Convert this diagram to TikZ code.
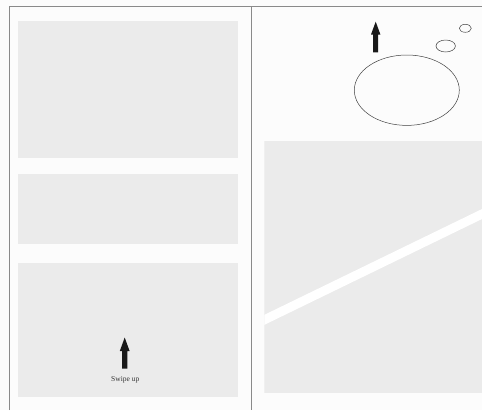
\documentclass[tikz,border=0pt]{standalone}
\usepackage{fontspec}
\setmainfont{Liberation Serif}
\definecolor{bg}{HTML}{FCFCFC}
\definecolor{panel}{HTML}{EBEBEB}
\definecolor{frame}{HTML}{8A8A8A}
\tikzset{
  panelbox/.style={fill=panel, draw=none},
  frameline/.style={draw=frame, line width=1pt},
  bubble/.style={draw=black!75, line width=0.5pt},
  uparrow/.style={fill=black!90, draw=none},
}
\begin{document}
\begin{tikzpicture}[x=1pt,y=-1pt]
\useasboundingbox (0,0) rectangle (482,410);
\fill[bg] (0,0) rectangle (482,410);
% frame
\coordinate (tl) at (9,6);
\coordinate (tr) at (482,6);
\coordinate (bl) at (9,410);
\coordinate (dt) at (251,6);
\coordinate (db) at (251,410);
\draw[frameline] (bl) -- (tl) -- (tr);
\draw[frameline] (dt) -- (db);
% left panels
\fill[panelbox] (18.3,20.7) rectangle (237.7,158.3);
\fill[panelbox] (18.3,174) rectangle (237.7,244);
\fill[panelbox] (18.3,262.7) rectangle (237.7,397.3);
% swipe arrow
\fill[uparrow] (124.7,337.5) -- (129.6,351) -- (127.3,351) -- (127.3,368.5) -- (122.1,368.5) -- (122.1,351) -- (119.8,351) -- cycle;
\node[font=\fontsize{7.5}{9}\selectfont, text=black!80, inner sep=0pt] (swipe) at (125.3,379.5) {Swipe up};
% right panel
\begin{scope}
\clip (264.3,141) rectangle (482,392.7);
\fill[panelbox] (264.3,141) rectangle (482,392.7);
\draw[white, line width=9pt] (250,326.8) -- (495,207.7);
\end{scope}
% bubbles
\draw[bubble] (406.8,90.2) ellipse [x radius=52.5, y radius=35.2];
\draw[bubble] (445.7,46) ellipse [x radius=9.7, y radius=6];
\draw[bubble] (465.3,28.3) ellipse [x radius=6, y radius=4];
% top arrow
\fill[uparrow] (375.7,21.7) -- (380.4,34.5) -- (378.2,34.5) -- (378.2,52.3) -- (373.2,52.3) -- (373.2,34.5) -- (371,34.5) -- cycle;
\end{tikzpicture}
\end{document}
